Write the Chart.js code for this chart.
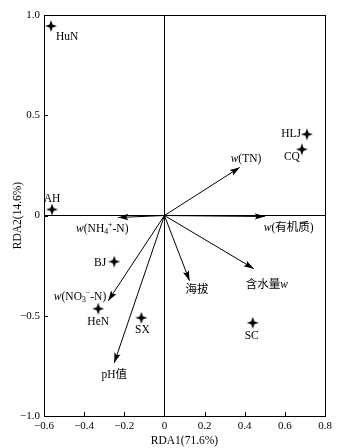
<!DOCTYPE html>
<html>
<head>
<meta charset="utf-8">
<script src="https://cdn.jsdelivr.net/npm/chart.js@4/dist/chart.umd.min.js"></script>
<style>
html,body{margin:0;padding:0;background:#fff;}
#wrap{width:342px;height:448px;}
</style>
</head>
<body>
<div id="wrap"><canvas id="c" width="342" height="448"></canvas></div>
<script>
// ---- data ----
const siteNames = ['HuN', 'AH', 'HLJ', 'CQ', 'BJ', 'HeN', 'SX', 'SC'];
const siteRDA1 = [-0.565, -0.56, 0.71, 0.685, -0.25, -0.33, -0.115, 0.44];
const siteRDA2 = [0.945, 0.03, 0.405, 0.33, -0.23, -0.465, -0.51, -0.535];

const envNames = ['w(TN)', 'w(有机质)', '含水量w', '海拔', 'pH值', 'w(NO3−-N)', 'w(NH4+-N)'];
const envRDA1 = [0.375, 0.50, 0.445, 0.125, -0.25, -0.28, -0.23];
const envRDA2 = [0.24, -0.005, -0.265, -0.325, -0.735, -0.425, -0.01];

const xTitle = 'RDA1(71.6%)';
const yTitle = 'RDA2(14.6%)';
const xTicksMin = -0.6, xTicksMax = 0.8, xStep = 0.2;
const yTicksMin = -1.0, yTicksMax = 1.0, yStep = 0.5;

// ---- rich-text rendering of labels (italic w, sub/superscripts) ----
const richLabels = {
  'w(TN)': [{t:'w',i:1},{t:'(TN)'}],
  'w(有机质)': [{t:'w',i:1},{t:'(有机质)'}],
  '含水量w': [{t:'含水量'},{t:'w',i:1}],
  '海拔': [{t:'海拔'}],
  'pH值': [{t:'pH值'}],
  'w(NO3−-N)': [{t:'w',i:1},{t:'(NO'},{t:'3',sub:1},{t:'−',sup:1},{t:'-N)'}],
  'w(NH4+-N)': [{t:'w',i:1},{t:'(NH'},{t:'4',sub:1},{t:'+',sup:1},{t:'-N)'}]
};

// label placement styles (pixel offsets from mark)
const siteLabelStyle = {
  'HuN': {dx:5, dy:10, a:'left'},
  'AH': {dx:0, dy:-12, a:'center'},
  'HLJ': {dx:-6, dy:-1, a:'right'},
  'CQ': {dx:-10, dy:7, a:'center'},
  'BJ': {dx:-8, dy:0, a:'right'},
  'HeN': {dx:0, dy:12, a:'center'},
  'SX': {dx:1, dy:11, a:'center'},
  'SC': {dx:-1, dy:12, a:'center'}
};
const envLabelStyle = {
  'w(TN)': {dx:-9, dy:-9, a:'left'},
  'w(有机质)': {dx:-1, dy:10, a:'left'},
  '含水量w': {dx:-8, dy:15, a:'left'},
  '海拔': {dx:-4, dy:8, a:'left'},
  'pH值': {dx:0, dy:11, a:'center'},
  'w(NO3−-N)': {dx:-2, dy:-5, a:'right'},
  'w(NH4+-N)': {dx:-16, dy:10, a:'center'}
};

const FAMILY = "'Liberation Serif', 'Noto Sans CJK SC', serif";
const LABEL_SIZE = 11.5;

function drawRich(ctx, segs, x, cy, align, size) {
  const parts = segs.map(s => {
    const fs = (s.sub || s.sup) ? size * 0.68 : size;
    const font = (s.i ? 'italic ' : '') + fs + 'px ' + FAMILY;
    ctx.font = font;
    return {s, font, w: ctx.measureText(s.t).width};
  });
  const total = parts.reduce((a, p) => a + p.w, 0);
  let sx = align === 'left' ? x : (align === 'right' ? x - total : x - total / 2);
  ctx.textAlign = 'left';
  ctx.textBaseline = 'alphabetic';
  const base = cy + size * 0.35;
  parts.forEach(p => {
    ctx.font = p.font;
    let yy = base;
    if (p.s.sub) yy += size * 0.22;
    if (p.s.sup) yy -= size * 0.38;
    ctx.fillText(p.s.t, sx, yy);
    sx += p.w;
  });
}

function makeStar(r, ri) {
  const c = document.createElement('canvas');
  c.width = c.height = 2 * r + 2;
  const g = c.getContext('2d');
  const cx = r + 1;
  g.fillStyle = '#000';
  g.beginPath();
  for (let k = 0; k < 8; k++) {
    const a = k * Math.PI / 4 - Math.PI / 2;
    const rr = k % 2 ? ri : r;
    g.lineTo(cx + rr * Math.cos(a), cx + rr * Math.sin(a));
  }
  g.closePath();
  g.fill();
  return c;
}
const star = makeStar(6, 2.2);

function fmt(v) {
  if (Math.abs(v) < 1e-9) return '0';
  return (v < 0 ? '−' : '') + Math.abs(v).toFixed(1);
}

// ---- datasets ----
const datasets = [];
datasets.push({
  label: 'sites',
  data: siteNames.map((n, i) => ({x: siteRDA1[i], y: siteRDA2[i]})),
  pointStyle: star,
  pointRadius: 6,
  showLine: false
});
envNames.forEach((n, i) => {
  datasets.push({
    label: n,
    data: [{x: 0, y: 0}, {x: envRDA1[i], y: envRDA2[i]}],
    showLine: true,
    borderColor: '#000',
    borderWidth: 1,
    pointRadius: 0,
    isArrow: true
  });
});

const decor = {
  id: 'decor',
  beforeDraw(chart) {
    const ctx = chart.ctx;
    ctx.save();
    ctx.fillStyle = '#fff';
    ctx.fillRect(0, 0, chart.width, chart.height);
    ctx.restore();
  },
  afterDatasetsDraw(chart) {
    const ctx = chart.ctx;
    const ca = chart.chartArea;
    const xs = chart.scales.x, ys = chart.scales.y;
    ctx.save();
    // box
    ctx.strokeStyle = '#000';
    ctx.lineWidth = 1;
    ctx.strokeRect(Math.round(ca.left) + 0.5, Math.round(ca.top) + 0.5,
      Math.round(ca.right - ca.left), Math.round(ca.bottom - ca.top));
    // inward ticks
    ctx.beginPath();
    xs.ticks.forEach(t => {
      const px = Math.round(xs.getPixelForValue(t.value)) + 0.5;
      ctx.moveTo(px, ca.bottom);
      ctx.lineTo(px, ca.bottom - 4);
    });
    ys.ticks.forEach(t => {
      const py = Math.round(ys.getPixelForValue(t.value)) + 0.5;
      ctx.moveTo(ca.left, py);
      ctx.lineTo(ca.left + 4, py);
    });
    ctx.stroke();
    // arrowheads
    ctx.fillStyle = '#000';
    chart.data.datasets.forEach((ds, di) => {
      if (!ds.isArrow) return;
      const meta = chart.getDatasetMeta(di);
      const p0 = meta.data[0], p1 = meta.data[1];
      const ang = Math.atan2(p1.y - p0.y, p1.x - p0.x);
      const L = 10, W = 3.2;
      ctx.beginPath();
      ctx.moveTo(p1.x, p1.y);
      ctx.lineTo(p1.x - L * Math.cos(ang) + W * Math.sin(ang), p1.y - L * Math.sin(ang) - W * Math.cos(ang));
      ctx.lineTo(p1.x - L * 0.8 * Math.cos(ang), p1.y - L * 0.8 * Math.sin(ang));
      ctx.lineTo(p1.x - L * Math.cos(ang) - W * Math.sin(ang), p1.y - L * Math.sin(ang) + W * Math.cos(ang));
      ctx.closePath();
      ctx.fill();
      const name = ds.label;
      const st = envLabelStyle[name];
      drawRich(ctx, richLabels[name], p1.x + st.dx, p1.y + st.dy, st.a, LABEL_SIZE);
    });
    // site labels
    const sm = chart.getDatasetMeta(0);
    siteNames.forEach((n, i) => {
      const p = sm.data[i];
      const st = siteLabelStyle[n];
      drawRich(ctx, [{t: n}], p.x + st.dx, p.y + st.dy, st.a, LABEL_SIZE);
    });
    ctx.restore();
  }
};

Chart.defaults.font.family = FAMILY;
Chart.defaults.font.size = 11;
Chart.defaults.color = '#000';

new Chart(document.getElementById('c'), {
  type: 'scatter',
  data: {datasets},
  options: {
    responsive: false,
    animation: false,
    devicePixelRatio: 1,
    layout: {padding: {top: 15, right: 17, left: 0, bottom: 0}},
    plugins: {legend: {display: false}, tooltip: {enabled: false}},
    scales: {
      x: {
        type: 'linear',
        min: xTicksMin, max: xTicksMax,
        ticks: {stepSize: xStep, callback: v => fmt(v), padding: 4, maxRotation: 0, autoSkip: false},
        grid: {drawTicks: false, color: c => (c.tick && Math.abs(c.tick.value) < 1e-9) ? '#000' : 'rgba(0,0,0,0)', lineWidth: 1},
        border: {display: false},
        title: {display: true, text: xTitle, font: {size: 11.5}, padding: {top: 0, bottom: 0}},
        afterFit: s => { s.height = 32; }
      },
      y: {
        type: 'linear',
        min: yTicksMin, max: yTicksMax,
        ticks: {stepSize: yStep, callback: v => fmt(v), padding: 4, autoSkip: false},
        grid: {drawTicks: false, color: c => (c.tick && Math.abs(c.tick.value) < 1e-9) ? '#000' : 'rgba(0,0,0,0)', lineWidth: 1},
        border: {display: false},
        title: {display: true, text: yTitle, font: {size: 11.5}, padding: {top: 11, bottom: 0}},
        afterFit: s => { s.width = 44; }
      }
    }
  },
  plugins: [decor]
});
</script>
</body>
</html>
